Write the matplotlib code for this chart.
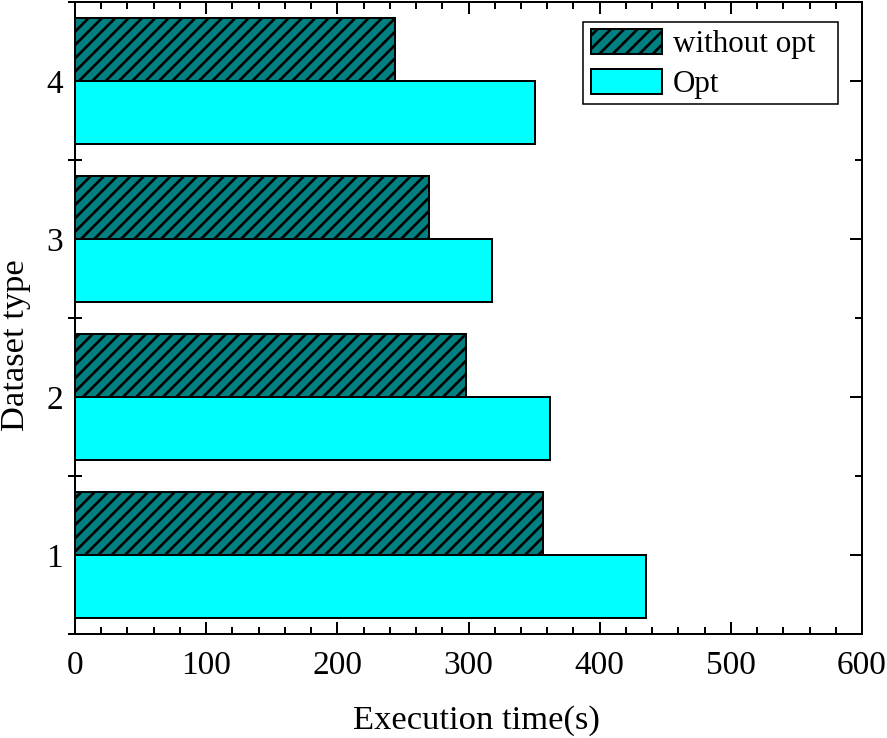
import matplotlib
matplotlib.use("Agg")
import matplotlib.pyplot as plt
import numpy as np
from matplotlib.ticker import MultipleLocator, FixedLocator
from matplotlib.patches import Rectangle

categories = [1, 2, 3, 4]
without_opt = [357, 298, 270, 244]
opt = [435, 362, 318, 351]
series_labels = ["without opt", "Opt"]
xticks = [0, 100, 200, 300, 400, 500, 600]

DPI = 80
W, H = 887, 738
plt.rcParams['font.family'] = ['Liberation Serif', 'DejaVu Serif']
plt.rcParams['hatch.linewidth'] = 2.4
plt.rcParams['hatch.color'] = 'black'
FS_TICK = 30
FS_LABEL = 31
FS_LEG = 28

fig = plt.figure(figsize=(W / DPI, H / DPI), dpi=DPI)
ax = fig.add_axes([75 / W, 1 - 634 / H, (862 - 75) / W, (634 - 2) / H])

y = np.array(categories, dtype=float)
h = 0.4
ax.barh(y + h / 2, without_opt, height=h, color='#008080', edgecolor='black',
        linewidth=1.8, hatch='//', label=series_labels[0], zorder=2)
ax.barh(y - h / 2, opt, height=h, color='#00FFFF', edgecolor='black',
        linewidth=1.8, label=series_labels[1], zorder=2)

ax.set_xlim(0, 600)
ax.set_ylim(0.5, 4.5)
ax.set_xticks(xticks)
ax.xaxis.set_minor_locator(MultipleLocator(20))
ax.set_yticks(categories)
ax.yaxis.set_minor_locator(FixedLocator([0.5, 1.5, 2.5, 3.5, 4.5]))

for s in ax.spines.values():
    s.set_linewidth(1.8)
    s.set_zorder(5)

ax.tick_params(axis='x', which='major', direction='in', top=True, bottom=True,
               length=11, width=1.8, labelsize=FS_TICK, pad=15)
ax.tick_params(axis='x', which='minor', direction='in', top=True, bottom=True,
               length=6, width=1.8)
ax.tick_params(axis='y', which='major', direction='in', left=True, right=False,
               length=11, width=1.8, labelsize=FS_TICK, pad=11)
ax.tick_params(axis='y', which='minor', direction='inout', left=True, right=False,
               length=12, width=1.8)

sec = ax.secondary_yaxis('right')
sec.set_yticks(categories)
sec.yaxis.set_minor_locator(FixedLocator([0.5, 1.5, 2.5, 3.5, 4.5]))
sec.tick_params(axis='y', which='major', direction='in', length=11, width=1.8,
                labelright=False)
sec.tick_params(axis='y', which='minor', direction='in', length=6, width=1.8)
sec.spines['right'].set_linewidth(1.8)

ax.set_xlabel('Execution time(s)', fontsize=FS_LABEL)
ax.set_ylabel('Dataset type', fontsize=FS_LABEL)
ax.xaxis.set_label_coords(0.51, -0.113)
ax.yaxis.set_label_coords(-0.056, 0.457)

leg = ax.legend(loc='upper left', bbox_to_anchor=(583 / W, 1 - 21 / H),
                bbox_transform=fig.transFigure, borderaxespad=0,
                fontsize=FS_LEG, frameon=False,
                handlelength=2.3, handleheight=0.85, handletextpad=0.33,
                borderpad=0.25, labelspacing=0.32)
frame = Rectangle((583 / W, 1 - 104 / H), (838 - 583) / W, (104 - 22) / H,
                  transform=fig.transFigure, fill=False, edgecolor='black',
                  linewidth=1.4, zorder=6)
fig.add_artist(frame)

fig.savefig('out.png', dpi=DPI)
